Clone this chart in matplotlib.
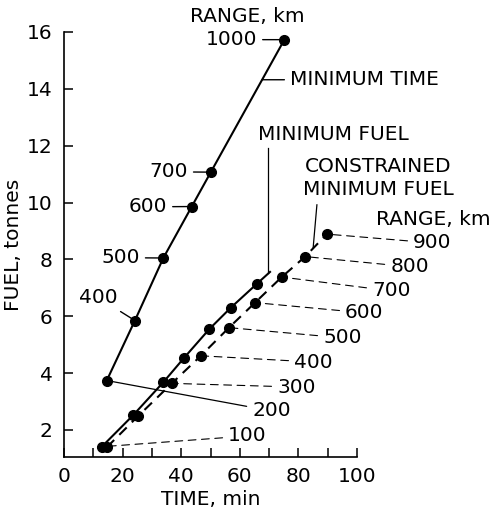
import matplotlib
matplotlib.use("Agg")
import matplotlib.pyplot as plt
import numpy as np

# minimum time trajectories
min_time_range = [200, 400, 500, 600, 700, 1000]
min_time_t = [14.6, 24.2, 33.9, 43.6, 50.1, 75.2]
min_time_fuel = [3.74, 5.85, 8.05, 9.86, 11.07, 15.73]

# minimum fuel trajectories (line runs a little past the 700 km point)
min_fuel_range = [100, 200, 300, 400, 500, 600, 700]
min_fuel_t = [12.9, 23.7, 33.9, 41.0, 49.6, 56.9, 65.8]
min_fuel_fuel = [1.41, 2.53, 3.68, 4.54, 5.55, 6.30, 7.14]
min_fuel_end = (70.3, 7.56)

# constrained minimum fuel trajectories
con_range = [100, 200, 300, 400, 500, 600, 700, 800, 900]
con_t = [14.6, 25.4, 36.8, 46.7, 56.3, 65.2, 74.3, 82.3, 89.7]
con_fuel = [1.39, 2.50, 3.64, 4.61, 5.60, 6.48, 7.38, 8.10, 8.89]

x_ticks = [0, 20, 40, 60, 80, 100]
x_minor = [10, 30, 50, 70, 90]
y_ticks = [2, 4, 6, 8, 10, 12, 14, 16]

FS = 14.5


def main():
    plt.rcParams['font.family'] = ['DejaVu Sans']
    fig = plt.figure(figsize=(5.01, 5.11), dpi=100)
    ax = fig.add_axes([0.1277, 0.1057, 0.585, 0.8317])

    ax.set_xlim(0, 100)
    ax.set_ylim(1.05, 16)

    # curves
    ax.plot(min_time_t, min_time_fuel, color='black', lw=1.5,
            marker='o', ms=7, clip_on=False)
    ax.plot(min_fuel_t + [min_fuel_end[0]], min_fuel_fuel + [min_fuel_end[1]],
            color='black', lw=1.5, marker='o', ms=7,
            markevery=list(range(len(min_fuel_t))), clip_on=False)
    ax.plot(con_t, con_fuel, color='black', lw=1.5, ls=(0, (5, 3.5)),
            marker='o', ms=7, clip_on=False)

    solid = dict(arrowstyle='-', lw=1.0, color='black', shrinkA=2, shrinkB=0)
    faint = dict(arrowstyle='-', lw=0.8, color='black', shrinkA=2, shrinkB=3,
                 linestyle=(0, (7, 5)))

    # range labels along the minimum time curve
    left_pos = {1000: (65.9, 15.73), 700: (42.3, 11.08), 600: (35.2, 9.85),
                500: (25.9, 8.06), 400: (18.4, 6.65)}
    for r, t, f in zip(min_time_range, min_time_t, min_time_fuel):
        if r in left_pos:
            ax.annotate(str(r), xy=(t, f), xytext=left_pos[r], fontsize=FS,
                        ha='right', va='center', arrowprops=solid)
    ax.text(62.5, 16.54, 'RANGE, km', fontsize=FS, ha='center', va='center')

    # range labels on the right side
    right_pos = {900: (119.1, 8.58), 800: (111.3, 7.74), 700: (105.1, 6.89),
                 600: (95.9, 6.12), 500: (88.4, 5.24), 400: (78.5, 4.39),
                 300: (72.7, 3.51)}
    for r, t, f in zip(con_range, con_t, con_fuel):
        if r in right_pos:
            ax.annotate(str(r), xy=(t, f), xytext=right_pos[r], fontsize=FS,
                        ha='left', va='center', arrowprops=faint)
    ax.annotate('200', xy=(min_time_t[0], min_time_fuel[0]),
                xytext=(64.2, 2.67), fontsize=FS, ha='left', va='center',
                arrowprops=dict(solid, lw=0.9))
    ax.annotate('100', xy=(min_fuel_t[0], min_fuel_fuel[0]),
                xytext=(56.0, 1.79), fontsize=FS, ha='left', va='center',
                arrowprops=faint)
    ax.text(106.5, 9.39, 'RANGE, km', fontsize=FS, ha='left', va='center')

    # curve names
    y_mt = 14.32
    x_mt = np.interp(y_mt, min_time_fuel, min_time_t)
    ax.annotate('MINIMUM TIME', xy=(x_mt, y_mt), xytext=(77.1, y_mt),
                fontsize=FS, ha='left', va='center', arrowprops=solid)

    ax.text(66.2, 12.39, 'MINIMUM FUEL', fontsize=FS, ha='left', va='center')
    ax.plot([69.6, 69.6], [11.93, min_fuel_end[1] - 0.05], color='black',
            lw=0.9, clip_on=False)

    ax.text(107.3, 11.26, 'CONSTRAINED', fontsize=FS, ha='center', va='center')
    ax.text(107.3, 10.45, 'MINIMUM FUEL', fontsize=FS, ha='center', va='center')
    xc = 85.0
    yc = np.interp(xc, con_t, con_fuel)
    ax.plot([86.3, xc], [9.92, yc], color='black', lw=0.9, clip_on=False)

    # axes
    ax.spines['top'].set_visible(False)
    ax.spines['right'].set_visible(False)
    ax.spines['left'].set_linewidth(1.2)
    ax.spines['bottom'].set_linewidth(1.2)
    ax.set_xticks(x_ticks)
    ax.set_xticks(x_minor, minor=True)
    ax.set_yticks(y_ticks)
    ax.tick_params(which='both', direction='in', length=6.5, width=1.1,
                   labelsize=FS)
    ax.tick_params(axis='x', pad=7)
    ax.tick_params(axis='y', pad=8)
    ax.set_xlabel('TIME, min', fontsize=FS, labelpad=3)
    ax.set_ylabel('FUEL, tonnes', fontsize=FS, labelpad=3)

    fig.savefig('out.png', dpi=100)


if __name__ == "__main__":
    main()
